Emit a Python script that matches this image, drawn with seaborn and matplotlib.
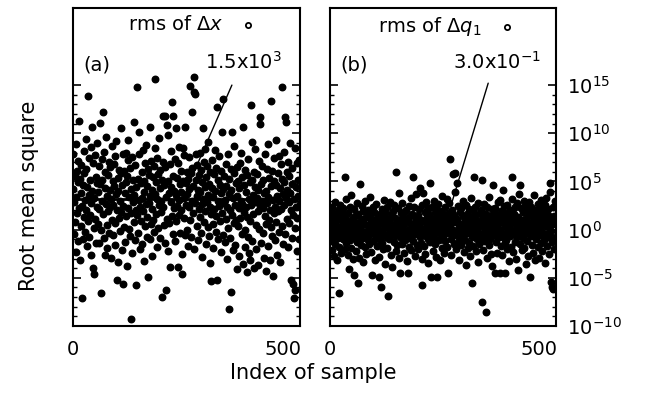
# rms of Delta x / Delta q1 per sample, log scale

import numpy as np
import pandas as pd
import seaborn as sns
import matplotlib.pyplot as plt
from matplotlib.ticker import NullFormatter

# log10 of rms values (one value per sample index)
log_rms_dx = [
    4.2, 7.8, -0.5, 2.9, 5.6, 0.8, 8.9, 3.4, -2.3, 6.1, 1.7, 4.9, -1.2, 7.1, 11.3, 2.2, 5.3, -3.1, 3.8, 0.4, 6.7, -7.1, 2.5, 4.6, -1.0, 8.2, 1.3, 5.9, -0.2, 3.1,
    6.3, 2.0, 9.4, -1.7, 4.4, 0.9, 13.9, 3.6, 7.4, -0.8, 5.1, 1.5, 8.6, 2.8, -2.6, 10.6, 4.0, -4.0, 6.9, 0.2, -4.6, 3.3, 7.7, 1.1, 5.5, -1.4, 2.4, 9.0, 4.8, 0.6,
    3.9, 6.6, -1.4, 2.1, 11.1, 4.7, -6.6, 0.0, 7.3, 3.0, 5.2, 12.2, 1.6, 8.1, -0.9, -2.6, 4.3, 6.0, 2.7, 9.6, 0.5, 3.5, -1.9, 5.7, 1.9, 7.0, -0.3, 4.1, 2.3, 6.5,
    -2.9, 3.2, 8.7, 1.0, 5.0, -0.6, 2.6, 6.8, 4.5, -1.6, 7.6, 0.7, 3.7, 9.2, -5.2, 2.0, 5.4, -3.4, 4.0, 1.2, 6.2, -0.1, 3.0, 10.5, 1.8, 5.9, -2.1, 4.6, -5.6, 7.9,
    2.5, 0.3, 6.1, -1.3, 3.8, 8.0, 1.4, 4.9, -3.8, 5.6, 2.2, 7.2, 9.3, 0.1, 3.4, -0.7, 6.4, -9.3, 4.2, 1.7, 7.5, -2.4, 2.9, 5.1, 0.8, 3.6, 11.2, -1.1, 6.7, 2.0,
    4.4, -5.7, 1.5, 14.8, 5.3, -0.4, 3.1, 7.8, 10.1, 2.4, -2.0, 4.8, 0.9, 6.0, 3.3, -1.5, 8.3, 1.9, 5.0, -3.3, 3.9, 6.9, 0.4, 2.7, 8.8, -0.8, 4.5, 1.3, 6.3, -4.9,
    2.8, 5.7, -1.0, 3.5, 10.6, 0.6, 7.1, 4.1, -2.7, 2.1, 5.5, 1.0, 6.6, -0.2, 8.5, 3.7, 15.6, 4.9, 1.6, 7.4, -1.8, 3.2, 5.8, 0.2, 2.6, 9.5, 4.3, -0.9, 6.2, 1.8,
    3.0, 5.2, -7.0, 2.3, 7.0, 11.8, 0.5, 4.6, -1.4, 6.5, 11.8, 3.4, -6.3, 10.9, 1.1, 5.0, -2.2, 9.8, 3.8, 0.7, 6.8, -3.9, 2.9, 4.4, 8.2, 1.4, 13.2, 5.6, 11.8, -0.5,
    4.0, 2.2, 7.3, -1.2, 3.6, 10.5, 0.9, 5.4, 2.5, 6.9, -3.9, 3.1, 1.5, 8.6, 4.7, -0.3, 2.0, 6.1, 3.9, -2.5, -4.6, 5.0, 8.5, 1.2, 3.3, 7.7, -0.6, 10.7, 4.8, 2.6,
    6.0, 0.0, 3.7, 5.3, -1.7, 2.4, 7.5, 4.2, 1.0, 14.9, 5.9, -0.8, 3.0, 12.2, 6.4, 1.7, 4.5, 15.8, -2.0, 14.3, 2.8, 14.1, 5.1, 7.9, 0.4, 3.5, 6.7, -1.1, 4.1, 2.1,
    5.7, 8.0, 1.3, 3.9, -0.4, 6.2, 2.7, 4.9, -2.8, 10.5, 3.2, 0.8, 7.0, 4.4, 8.4, 1.9, -1.5, 5.5, 2.9, 6.6, 0.3, 3.6, 9.1, -0.7, 4.7, 2.3, 6.0, -3.5, -5.3, 1.6,
    4.3, 7.2, 0.6, 3.4, -1.9, 5.8, 2.1, 8.3, 4.0, -0.2, 6.4, 1.4, 12.7, -5.2, 3.0, 5.2, -1.0, 2.5, 7.6, 4.6, 0.9, 3.8, -2.3, 6.1, 10.1, 1.7, 4.2, 13.6, -0.6, 2.8,
    5.6, 3.1, -1.3, 6.8, 1.1, 4.5, -3.0, 2.4, 7.9, 0.2, -8.2, 3.7, 5.3, -0.9, 2.0, -6.5, 6.3, 4.1, 10.1, 1.5, -2.1, 3.3, 5.9, 0.7, 8.7, 2.6, -1.6, 4.8, 1.0, 6.5,
    -4.1, 3.5, 0.4, 5.0, 2.2, -2.7, 4.3, 6.9, 1.2, 8.0, 3.0, -0.5, 5.5, 2.7, 10.6, -3.6, 1.8, 4.6, 0.0, 6.2, -1.8, 3.9, 2.3, -4.4, 5.7, 1.3, 7.3, -0.8, 3.2, -2.4,
    4.9, 0.9, -3.2, 2.6, 12.9, 5.1, 9.1, -1.2, 3.6, 1.6, 6.0, -4.0, 2.9, 4.4, 8.4, 0.5, -2.0, 3.3, 5.8, 1.9, -3.7, 4.1, 7.1, 0.1, 11.7, 2.5, 11.0, -1.4, 4.7, 3.0,
    6.6, -0.3, 2.2, 5.2, -2.9, 3.8, 1.4, 7.8, -4.3, 4.0, 0.6, 2.8, 6.3, -1.7, 3.4, 8.9, 1.0, 5.4, -3.1, 2.0, 4.5, 0.3, 13.3, 6.1, -0.7, 3.1, -4.8, 5.0, 1.7, 7.4,
    2.4, -1.1, 4.6, 0.8, 9.3, 3.5, -2.6, 5.9, 1.9, 7.6, 3.0, -0.2, 4.3, -3.4, 6.8, 2.1, 14.8, 0.4, 5.3, 3.7, -1.5, 8.1, 2.6, 4.9, -0.5, 11.7, 3.3, 11.2, 6.0, 1.1,
    4.1, 7.0, -1.8, 2.9, 5.6, 0.7, 3.8, 9.0, 2.0, -5.2, 4.7, -0.9, 6.4, 1.5, -5.6, -7.1, 3.2, 8.5, -6.3, 0.2, 4.4, 2.3, 6.9, -2.2, 1.2, 5.1, 3.5, -1.0, 7.2, 2.7,
]

log_rms_dq1 = [
    0.5, -1.2, 1.8, -0.4, 2.3, -2.1, 0.9, -0.8, 1.4, -2.7, 0.2, 2.9, -1.5, 0.7, -0.1, 1.6, -3.1, 0.4, 2.0, -0.9, 1.1, -1.8, -6.6, 0.3, 2.6, -0.6, 1.3, -2.4, 0.0, 1.9,
    -1.0, 0.8, 2.2, -0.3, 1.5, -2.0, 5.5, 0.6, -1.4, 3.2, -0.7, 1.0, -2.6, 0.1, 1.7, -4.1, -0.2, 2.4, -1.1, 0.5, 3.6, -1.9, 0.9, -0.5, 1.2, -3.0, 0.3, -4.7, 2.1, -0.8,
    1.4, -0.1, -2.2, 0.7, 2.8, -1.3, 0.2, -5.5, 1.6, -0.6, -2.9, 0.4, 4.7, 1.1, -1.6, 0.0, 2.5, -0.9, 0.8, -3.4, 1.9, -0.4, 0.6, -1.8, 3.0, -0.2, 1.3, -2.5, 0.5, -1.0,
    2.0, -0.7, 0.3, 1.5, -1.5, 3.4, -0.3, 0.9, -2.3, 1.2, -4.7, 0.0, 2.3, -1.2, 0.6, -0.5, 1.8, -3.2, 0.4, -0.9, 1.0, 2.7, -1.7, 0.2, -0.4, 1.4, -2.8, -4.9, 0.7, -1.1,
    1.6, -0.2, -6.0, 0.8, 2.1, -1.4, 0.1, -2.0, 1.3, 3.1, -0.6, 0.5, -3.6, 1.7, -0.8, 0.3, 2.4, -1.9, 0.9, -6.9, -0.3, 1.1, -1.0, 2.9, 0.2, -2.6, 0.6, 1.5, -0.5, -3.9,
    0.4, 1.9, -1.3, 0.0, 2.6, -0.7, 1.2, -2.2, 6.0, 0.5, -1.6, 0.8, 2.2, -0.1, -2.9, 3.8, 1.0, -4.5, 0.3, -0.9, 1.7, -1.5, 0.6, 2.8, -0.4, 1.3, -2.4, 0.1, 1.8, -1.1,
    0.7, -0.2, 2.0, -3.3, 1.1, -0.6, -4.5, 0.9, 2.5, -1.8, 0.2, 1.4, -0.9, 3.3, -2.1, 0.5, -0.3, 1.6, 5.5, -1.2, 0.0, 2.3, -2.7, 0.8, -0.5, 1.2, 3.7, -1.6, 0.4, -0.1,
    1.5, -2.0, 0.6, 2.1, -0.8, 4.3, 0.3, -1.4, 1.0, -3.0, 2.6, -5.7, 3.8, -0.4, 0.9, -1.7, 1.8, 0.1, -2.5, 2.9, -0.7, 0.5, 1.3, -1.0, 2.2, -3.5, 0.2, 1.6, -0.3, 4.8,
    -1.3, -4.9, 0.8, 2.4, -0.6, 1.1, -2.2, 0.4, 3.0, -0.9, 1.7, -1.5, 0.0, 2.0, -2.8, 0.7, -4.9, 1.4, -0.2, 2.7, -1.1, 0.5, -3.2, 1.9, 0.3, -0.5, 1.0, -1.9, 3.5, 0.1,
    -0.8, 1.6, -2.4, 0.6, 2.3, -1.2, 0.2, 1.2, -0.4, 3.2, -1.8, 0.9, -4.5, 1.7, -0.1, 2.8, 0.4, 7.3, -1.0, 0.7, -2.6, 1.3, 2.0, -0.6, 5.8, 0.0, -1.5, 1.5, 3.9, 5.9,
    -0.3, 0.8, -2.0, 4.8, 1.1, -0.7, 2.5, -1.3, 0.3, -3.1, 1.8, -0.2, 0.6, 2.2, -1.6, 0.1, -0.9, 1.4, 3.0, -2.3, 0.5, -0.5, 1.0, -1.1, 2.6, -3.7, 0.9, -0.4, 1.6, -1.9,
    0.2, 2.1, -1.4, 0.7, -2.7, 1.3, -0.1, 3.3, 0.4, -5.5, -0.8, 1.9, -1.7, 0.0, 5.5, 1.1, -0.6, 2.4, -2.2, 0.6, 1.5, -1.0, 0.3, -3.4, 2.8, -0.3, 0.9, -1.5, 1.7, -0.9,
    0.4, 2.0, -7.5, 5.1, -0.5, 1.2, -2.1, 0.8, 2.7, -1.2, 0.1, -0.7, 1.6, -8.5, -2.9, 0.5, 2.3, -0.2, 1.0, -1.6, 3.4, 0.2, -1.0, 1.4, -2.5, 0.7, 2.1, -0.4, -3.8, 1.1,
    4.6, -0.6, 1.8, 0.3, -4.5, 2.2, -1.3, 0.9, -0.1, 1.5, -2.4, 0.6, 2.9, -0.8, 1.2, -4.5, 3.1, 0.0, -1.7, 1.9, -0.3, 0.8, -2.6, 4.1, 1.3, -0.9, 2.5, -1.4, -4.5, 0.4,
    -1.1, 1.7, 0.2, -2.0, 2.6, -0.4, 1.0, -3.3, 0.5, 2.0, -0.7, 1.4, -1.8, 0.1, 3.2, 5.5, -0.5, 0.9, -2.3, 1.6, -0.2, 2.4, -1.3, 0.7, -3.0, 1.1, 0.3, 2.8, -0.8, -4.2,
    1.3, -0.6, 3.7, 0.6, 4.6, -1.5, 0.0, 2.2, -2.1, 1.0, -0.3, 1.8, -0.9, 3.0, -1.9, 0.4, 2.5, -0.5, 1.2, -3.6, 0.8, -1.2, 1.9, 0.2, -2.7, 2.9, -0.1, 1.5, -4.9, 0.6,
    -0.7, 2.3, -1.6, 0.9, 1.6, -2.4, 0.3, 3.6, -0.4, 1.1, -3.2, 0.5, 2.0, -1.0, 0.7, -0.2, 2.7, -1.8, 1.3, -2.9, 0.0, 1.9, -0.6, 3.1, -1.4, 0.6, 2.2, -2.2, 1.0, -0.3,
    1.7, -1.1, 0.4, 2.6, -3.5, 1.2, -0.5, 3.3, 0.8, -1.7, 2.1, -0.8, 1.5, -2.5, 0.2, 3.9, 4.8, -0.1, -5.4, 1.0, -1.3, -6.0, 2.4, -6.2, 0.6, -2.0, 1.4, 3.0, -0.9, 2.8,
]

mean_dx = 1.5e3
mean_dq1 = 3.0e-1
panel_tags = ["(a)", "(b)"]
legend_labels = [r"rms of $\Delta x$", r"rms of $\Delta q_1$"]
mean_labels = [r"1.5x10$^{3}$", r"3.0x10$^{-1}$"]
x_ticks = [0, 500]

df_a = pd.DataFrame({"sample": np.arange(len(log_rms_dx)), "rms": 10.0 ** np.array(log_rms_dx)})
df_b = pd.DataFrame({"sample": np.arange(len(log_rms_dq1)), "rms": 10.0 ** np.array(log_rms_dq1)})

sns.set_theme(style="ticks")
plt.rcParams["font.family"] = ["DejaVu Sans"]
plt.rcParams["font.size"] = 14
plt.rcParams["mathtext.fontset"] = "dejavusans"
plt.rcParams["text.color"] = "black"
plt.rcParams["xtick.color"] = "black"
plt.rcParams["ytick.color"] = "black"
plt.rcParams["axes.labelcolor"] = "black"

fig = plt.figure(figsize=(6.48, 3.96), dpi=100)
ax_a = fig.add_axes([73 / 648, 70 / 396, 227 / 648, 318 / 396])
ax_b = fig.add_axes([330 / 648, 70 / 396, 226 / 648, 318 / 396])

panels = [
    (ax_a, df_a, mean_dx, (274, 10 ** 4.6), (378, 10 ** 15.0), (314, 10 ** 17.4), 0.55),
    (ax_b, df_b, mean_dq1, (289, 10 ** 2.5), (378, 10 ** 15.2), (294, 10 ** 17.4), 0.54),
]

for i, (ax, df, mean, p_end, p_start, txt_pos, leg_x) in enumerate(panels):
    sns.scatterplot(data=df, x="sample", y="rms", ax=ax, marker="o", s=22,
                    facecolor="black", edgecolor="black", linewidth=1.0,
                    label=legend_labels[i], zorder=3)
    ax.axhline(mean, color="black", lw=2.0, zorder=4)
    ax.set_yscale("log")
    ax.set_xlim(0, 540)
    ax.set_ylim(1e-10, 1e23)
    ax.set_yticks([10.0 ** k for k in range(-10, 16, 5)])
    ax.set_yticks([10.0 ** k for k in range(-10, 16)], minor=True)
    ax.yaxis.set_minor_formatter(NullFormatter())
    ax.set_xticks(x_ticks)
    ax.set_xlabel("")
    ax.set_ylabel("")
    ax.tick_params(axis="y", which="major", direction="in", length=6, width=1.2,
                   left=True, right=True, labelleft=False, labelright=(i == 1),
                   labelsize=14, pad=8)
    ax.tick_params(axis="y", which="minor", direction="in", length=3, width=1.0,
                   left=True, right=True)
    ax.tick_params(axis="x", length=0, labelsize=14, pad=10)
    for sp in ax.spines.values():
        sp.set_linewidth(1.5)
        sp.set_color("black")

    ax.annotate("", xy=p_end, xytext=p_start,
                arrowprops=dict(arrowstyle="-", color="black", lw=1.0, shrinkA=0, shrinkB=0))
    ax.text(*txt_pos, mean_labels[i], fontsize=14, va="center", ha="left")
    ax.text(0.045, 0.82, panel_tags[i], transform=ax.transAxes, fontsize=14, va="center")
    leg = ax.legend(loc="upper center", bbox_to_anchor=(leg_x, 1.015), frameon=False,
                    markerfirst=False, handletextpad=0.3, fontsize=14, borderaxespad=0.2)
    for h in leg.legend_handles:
        h.set_facecolor("white")
        h.set_edgecolor("black")
        h.set_linewidth(1.3)
        h.set_sizes([14])

ax_a.set_ylabel("Root mean square", fontsize=15)
ax_a.yaxis.set_label_coords(-0.15, 0.41)
fig.text(313 / 648, 1 - 373 / 396, "Index of sample", fontsize=15, ha="center", va="center")

fig.savefig("out.png", dpi=100)
